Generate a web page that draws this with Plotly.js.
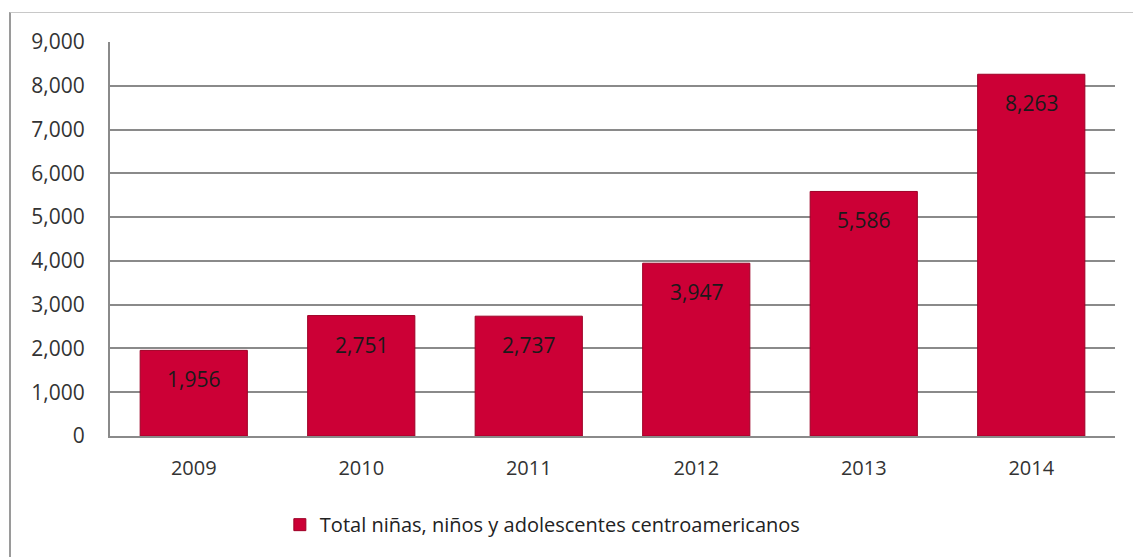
<!DOCTYPE html>
<html>
<head>
<meta charset="utf-8">
<script src="https://cdn.plot.ly/plotly-3.0.1.min.js"></script>
<style>
  html, body { margin: 0; padding: 0; background: #ffffff; }
  #wrap { position: relative; width: 1133px; height: 557px; }
  #chart { position: absolute; left: 0; top: 0; width: 1133px; height: 557px; }
  #frame { position: absolute; left: 9px; top: 12px; width: 1124px; height: 545px;
           border-left: 2px solid #9a9a9a; border-top: 1px solid #c8c8c8; pointer-events: none; }
</style>
</head>
<body>
<div id="wrap">
  <div id="chart"></div>
  <div id="frame"></div>
</div>
<script>
const years = ['2009', '2010', '2011', '2012', '2013', '2014'];
const totals = [1956, 2751, 2737, 3947, 5586, 8263];
const seriesName = 'Total niñas, niños y adolescentes centroamericanos';
const yTickVals = [0, 1000, 2000, 3000, 4000, 5000, 6000, 7000, 8000, 9000];

const fontFamily = '"Open Sans", "Noto Sans", sans-serif';

const barTrace = {
  type: 'bar',
  x: years,
  y: totals,
  name: seriesName,
  width: 0.64,
  marker: { color: '#cc0036', line: { color: '#9e0026', width: 1 } },
  showlegend: true,
  hoverinfo: 'x+y'
};

const fmt = v => v.toLocaleString('en-US');

const annotations = years.map((yr, i) => ({
  x: i, y: totals[i], xref: 'x', yref: 'y',
  text: fmt(totals[i]), showarrow: false,
  yanchor: 'middle', yshift: -29,
  font: { family: fontFamily, size: 21, color: '#1a1a1a' }
}));

const layout = {
  width: 1133, height: 557,
  margin: { l: 110, r: 18, t: 42, b: 121 },
  paper_bgcolor: '#ffffff', plot_bgcolor: '#ffffff',
  font: { family: fontFamily, size: 20, color: '#333333' },
  xaxis: {
    type: 'category',
    range: [-0.5, years.length - 0.5],
    showgrid: false,
    showline: true, linecolor: '#8a8a8a', linewidth: 2,
    ticks: '', ticklabelstandoff: 13,
    tickfont: { family: fontFamily, size: 20, color: '#333333' },
    fixedrange: true
  },
  yaxis: {
    range: [0, 9000],
    tickvals: yTickVals,
    ticktext: yTickVals.map(fmt),
    showgrid: true, gridcolor: '#8a8a8a', gridwidth: 2,
    showline: true, linecolor: '#8a8a8a', linewidth: 2,
    zeroline: false,
    ticks: '', ticklabelstandoff: 19,
    tickfont: { family: fontFamily, size: 21, color: '#333333' },
    fixedrange: true
  },
  legend: {
    orientation: 'h',
    x: 0.169, xanchor: 'left',
    y: -0.225, yanchor: 'middle',
    font: { family: fontFamily, size: 20, color: '#222222' },
    itemwidth: 30
  },
  annotations: annotations
};

Plotly.newPlot('chart', [barTrace], layout, { staticPlot: true, displayModeBar: false });
</script>
</body>
</html>
